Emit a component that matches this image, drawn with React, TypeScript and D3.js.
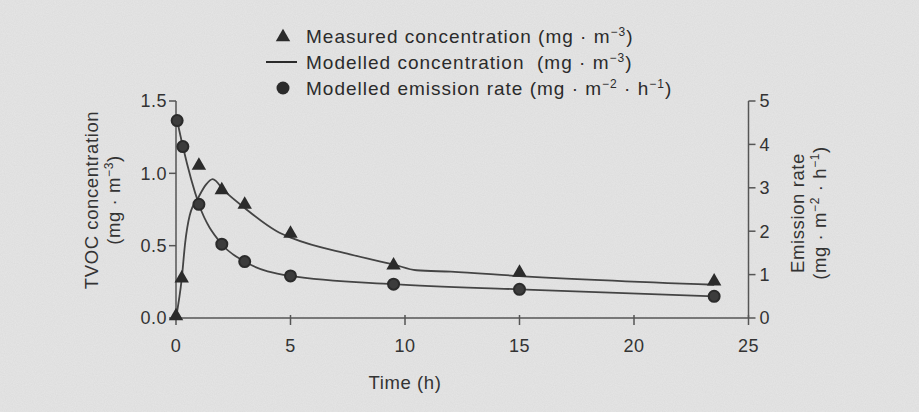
import * as d3 from "d3";

// measured TVOC concentration (mg·m-3), triangles
const measuredTime = [0, 0.25, 1, 2, 3, 5, 9.5, 15, 23.5];
const measuredConc = [0, 0.26, 1.04, 0.87, 0.77, 0.57, 0.35, 0.3, 0.24];

// modelled concentration curve (mg·m-3)
const modelTime = [0, 0.25, 0.4, 0.6, 1, 1.3, 1.6, 2.1, 3, 4.4, 5.1, 7.6, 9.5, 10.5, 12, 15, 23.5];
const modelConc = [0, 0.27, 0.52, 0.71, 0.84, 0.92, 0.96, 0.88, 0.76, 0.6, 0.55, 0.44, 0.37, 0.33, 0.32, 0.29, 0.23];

// modelled emission rate (mg·m-2·h-1), circles, right axis
const emissionTime = [0.05, 0.3, 1, 2, 3, 5, 9.5, 15, 23.5];
const emissionRate = [4.55, 3.95, 2.62, 1.7, 1.3, 0.97, 0.78, 0.66, 0.5];

const xTicks = [0, 5, 10, 15, 20, 25];
const yLeftTicks = [0, 0.5, 1.0, 1.5];
const yRightTicks = [0, 1, 2, 3, 4, 5];

const width = 919;
const height = 412;
const margin = { top: 101, right: 170, bottom: 94, left: 176 };
const ink = "#2b2b2b";
const font = "'Liberation Sans', Arial, sans-serif";

function Sup({ t }: { t: string }) {
  return (
    <tspan fontSize="12" dy="-7">
      {t}
    </tspan>
  );
}

export default function App() {
  const x = d3
    .scaleLinear()
    .domain([0, 25])
    .range([margin.left, width - margin.right - 0.5]);
  const yL = d3
    .scaleLinear()
    .domain([0, 1.5])
    .range([height - margin.bottom, margin.top]);
  const yR = d3
    .scaleLinear()
    .domain([0, 5])
    .range([height - margin.bottom, margin.top]);

  const modelLine = d3
    .line<number>()
    .x((_, i) => x(modelTime[i]))
    .y((d) => yL(d))
    .curve(d3.curveMonotoneX);
  const emissionLine = d3
    .line<number>()
    .x((_, i) => x(emissionTime[i]))
    .y((d) => yR(d))
    .curve(d3.curveMonotoneX);

  const tri = d3.symbol().type(d3.symbolTriangle).size(90)();
  const x0 = x(0);
  const x25 = x(25);
  const yb = yL(0);

  return (
    <svg
      width={width}
      height={height}
      style={{ position: "absolute", left: 0, top: 0, display: "block" }}
      fontFamily={font}
      fill={ink}
    >
      <defs>
        <filter id="grain" x="0" y="0" width="100%" height="100%">
          <feTurbulence type="fractalNoise" baseFrequency="0.9" numOctaves="2" seed="3" />
          <feColorMatrix
            type="matrix"
            values="0 0 0 0 0.45  0 0 0 0 0.45  0 0 0 0 0.45  0 0 0 0.2 0"
          />
        </filter>
      </defs>
      <rect width={width} height={height} fill="#e6e6e6" />
      <rect width={width} height={height} filter="url(#grain)" />

      {/* legend */}
      <g fontSize="19" letterSpacing="1">
        <path d={tri} transform="translate(283,37)" fill={ink} />
        <text x={306} y={43}>
          Measured concentration (mg · m<Sup t="−3" />
          <tspan dy="7">)</tspan>
        </text>
        <line x1={266} x2={297} y1={62} y2={62} stroke={ink} strokeWidth={2} />
        <text x={306} y={69}>
          Modelled concentration{"\u00a0\u00a0"}(mg · m<Sup t="−3" />
          <tspan dy="7">)</tspan>
        </text>
        <circle cx={283} cy={88} r={6.5} fill={ink} />
        <text x={306} y={95}>
          Modelled emission rate (mg · m<Sup t="−2" />
          <tspan dy="7"> · h</tspan>
          <Sup t="−1" />
          <tspan dy="7">)</tspan>
        </text>
      </g>

      {/* axes */}
      <g stroke="#555" strokeWidth={1.5} fill="none">
        <line x1={x0} x2={x0} y1={yL(1.5)} y2={yb} />
        <line x1={x0} x2={x25} y1={yb} y2={yb} />
        <line x1={x25} x2={x25} y1={yR(5)} y2={yb} />
        {yLeftTicks.map((t) => (
          <line key={"l" + t} x1={x0 - 7} x2={x0} y1={yL(t)} y2={yL(t)} />
        ))}
        {yRightTicks.map((t) => (
          <line key={"r" + t} x1={x25} x2={x25 + 7} y1={yR(t)} y2={yR(t)} />
        ))}
        {xTicks.map((t) => (
          <line key={"x" + t} x1={x(t)} x2={x(t)} y1={yb - 3} y2={yb + 7} />
        ))}
      </g>
      <g fontSize="18" fill="#333" letterSpacing="0.5">
        {yLeftTicks.map((t) => (
          <text key={t} x={x0 - 9} y={yL(t)} dy="0.35em" textAnchor="end">
            {d3.format(".1f")(t)}
          </text>
        ))}
        {yRightTicks.map((t) => (
          <text key={t} x={x25 + 11} y={yR(t)} dy="0.35em">
            {t}
          </text>
        ))}
        {xTicks.map((t) => (
          <text key={t} x={x(t)} y={yb + 34} textAnchor="middle">
            {t}
          </text>
        ))}
      </g>

      {/* axis titles */}
      <g fontSize="18.5" fill="#333" textAnchor="middle" letterSpacing="0.6">
        <text x={x(10)} y={389}>Time (h)</text>
        <text transform="translate(98,200) rotate(-90)">TVOC concentration</text>
        <text transform="translate(120,200) rotate(-90)">
          (mg · m<Sup t="−3" />
          <tspan dy="7">)</tspan>
        </text>
        <text transform="translate(804,213) rotate(-90)">Emission rate</text>
        <text transform="translate(826,213) rotate(-90)">
          (mg · m<Sup t="−2" />
          <tspan dy="7"> · h</tspan>
          <Sup t="−1" />
          <tspan dy="7">)</tspan>
        </text>
      </g>

      {/* series */}
      <path d={modelLine(modelConc) ?? ""} fill="none" stroke="#444" strokeWidth={1.8} />
      <path d={emissionLine(emissionRate) ?? ""} fill="none" stroke="#444" strokeWidth={1.8} />
      {measuredConc.map((d, i) => (
        <path
          key={"m" + i}
          d={tri}
          transform={`translate(${x(measuredTime[i])},${yL(d) - 2})`}
          fill={ink}
        />
      ))}
      {emissionRate.map((d, i) => (
        <circle
          key={"e" + i}
          cx={x(emissionTime[i])}
          cy={yR(d)}
          r={5.5}
          fill="#3c3c3c"
          stroke={ink}
          strokeWidth={2}
        />
      ))}
    </svg>
  );
}
